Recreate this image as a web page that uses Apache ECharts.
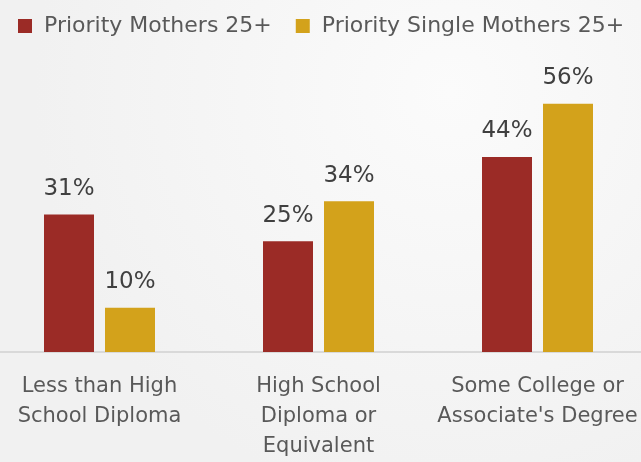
<!DOCTYPE html>
<html>
<head>
<meta charset="utf-8">
<script src="https://cdn.jsdelivr.net/npm/echarts@6/dist/echarts.min.js"></script>
<style>
  html, body { margin: 0; padding: 0; background: #f4f4f4; overflow: hidden; }
  /* plot area runs a little past both window edges, as in the source slide */
  #chart { width: 657px; height: 462px; margin-left: -10px; }
</style>
</head>
<body>
<div id="chart"></div>
<script>
// data
const categories = ['Less than High\nSchool Diploma', 'High School\nDiploma or\nEquivalent', 'Some College or\nAssociate\'s Degree'];
const mothers = [31, 25, 44];
const singleMothers = [10, 34, 56];
const seriesNames = ['Priority Mothers 25+', 'Priority Single Mothers 25+'];

const font = 'DejaVu Sans';
const textColor = '#595959';

const myChart = echarts.init(document.getElementById('chart'));
myChart.setOption({
  backgroundColor: {
    type: 'radial', x: 0.7, y: 0.2, r: 0.9,
    colorStops: [{ offset: 0, color: '#fbfbfb' }, { offset: 1, color: '#f1f1f1' }]
  },
  animation: false,
  legend: {
    left: 23, top: 10,
    itemWidth: 14, itemHeight: 14, itemGap: 24,
    icon: 'rect',
    textStyle: { fontFamily: font, fontSize: 22, color: textColor, padding: [0, 0, 0, 7] },
    data: seriesNames
  },
  grid: { left: 0, right: 0, top: 86, bottom: 106, containLabel: false },
  xAxis: {
    type: 'category',
    data: categories,
    axisTick: { show: false },
    axisLine: { lineStyle: { color: '#d9d9d9', width: 2 } },
    axisLabel: {
      fontFamily: font, fontSize: 21, color: textColor,
      lineHeight: 30, margin: 20, interval: 0
    }
  },
  yAxis: {
    type: 'value', min: 0, max: 60,
    show: false,
    splitLine: { show: false }
  },
  series: [{
    name: seriesNames[0],
    type: 'bar',
    data: mothers,
    barWidth: 50,
    barGap: '22%',
    itemStyle: { color: '#9b2b26' },
    label: {
      show: true, position: 'top', distance: 14, formatter: '{c}%',
      fontFamily: font, fontSize: 23, color: '#404040'
    }
  }, {
    name: seriesNames[1],
    type: 'bar',
    data: singleMothers,
    barWidth: 50,
    itemStyle: { color: '#d3a21b' },
    label: {
      show: true, position: 'top', distance: 14, formatter: '{c}%',
      fontFamily: font, fontSize: 23, color: '#404040'
    }
  }]
});
</script>
</body>
</html>
